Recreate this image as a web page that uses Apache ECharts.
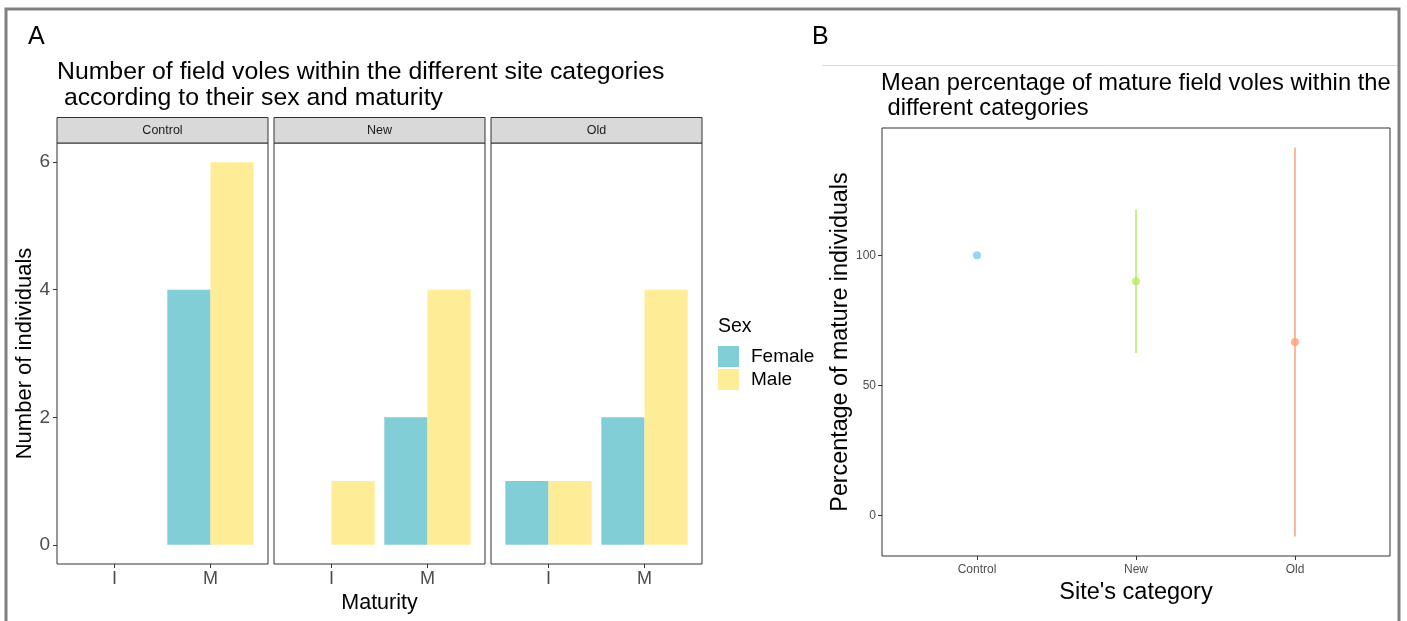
<!DOCTYPE html>
<html>
<head>
<meta charset="utf-8">
<script src="https://cdn.jsdelivr.net/npm/echarts@6/dist/echarts.min.js"></script>
<style>
  html, body { margin: 0; padding: 0; background: #fff; }
  #chart { width: 1407px; height: 621px; }
</style>
</head>
<body>
<div id="chart"></div>
<script>
// Panel A: counts per site, maturity and sex
const sites = ['Control', 'New', 'Old']
const maturity = ['I', 'M']
const femaleCounts = [['-', 4], ['-', 2], [1, 2]]
const maleCounts = [['-', 6], [1, 4], [1, 4]]
const countTicks = [0, 2, 4, 6]

// Panel B: mean percentage of mature individuals with error bars
const siteCategories = ['Control', 'New', 'Old']
const meanPct = [100, 90, 66.7]
const lowPct = [100, 62.5, -8]
const highPct = [100, 117.5, 141.4]
const pctTicks = [0, 50, 100]
const pointColors = ['#80C8F8', '#B5EC5E', '#FFA07A']

const FONT = '"Liberation Sans", Arial, sans-serif'
const femaleColor = '#81CED6'
const maleColor = '#FEEC97'

const chart = echarts.init(document.getElementById('chart'))

const grid = []
const xAxis = []
const yAxis = []
const series = []
const graphic = []

// facet panels of A
const panelLeft = [57, 274, 491]
sites.forEach((site, i) => {
    const L = panelLeft[i]
    // frame
    grid.push({ left: L, top: 143, width: 211, height: 421, show: true, borderColor: '#333', borderWidth: 1, backgroundColor: 'transparent' })
    xAxis.push({ gridIndex: grid.length - 1, type: 'value', show: false })
    yAxis.push({ gridIndex: grid.length - 1, type: 'value', show: false })
    // data
    grid.push({ left: L + 9.5, top: 143, width: 192, height: 421 })
    const gi = grid.length - 1
    xAxis.push({
        gridIndex: gi, type: 'category', data: maturity,
        axisLine: { show: false, onZero: false },
        axisTick: { show: true, alignWithLabel: true, length: 4, lineStyle: { color: '#333' } },
        axisLabel: { fontSize: 18, color: '#4d4d4d', margin: 6, fontFamily: FONT }
    })
    yAxis.push({
        gridIndex: gi, type: 'value', min: -0.3, max: 6.3, offset: 9.5,
        show: i === 0,
        axisLine: { show: false },
        splitLine: { show: false },
        axisTick: { show: true, length: 4, customValues: countTicks, lineStyle: { color: '#333' } },
        axisLabel: { fontSize: 19, color: '#4d4d4d', margin: 7, customValues: countTicks, fontFamily: FONT },
        name: i === 0 ? 'Number of individuals' : '',
        nameLocation: 'middle', nameGap: 20, nameRotate: 90,
        nameTextStyle: { fontSize: 22, color: '#000', fontFamily: FONT }
    })
    series.push({
        name: 'Female', type: 'bar', xAxisIndex: xAxis.length - 1, yAxisIndex: yAxis.length - 1,
        data: femaleCounts[i], barGap: '0%', barCategoryGap: '10%',
        itemStyle: { color: femaleColor }
    })
    series.push({
        name: 'Male', type: 'bar', xAxisIndex: xAxis.length - 1, yAxisIndex: yAxis.length - 1,
        data: maleCounts[i], barGap: '0%', barCategoryGap: '10%',
        itemStyle: { color: maleColor }
    })
    // strip
    graphic.push({ type: 'rect', shape: { x: L, y: 117.5, width: 211, height: 25.5 }, style: { fill: '#d9d9d9', stroke: '#333', lineWidth: 1 } })
    graphic.push({ type: 'text', x: L + 105.5, y: 131, style: { text: site, font: '12.5px ' + FONT, fill: '#1a1a1a', align: 'center', verticalAlign: 'middle' } })
})

// panel B frame + data
grid.push({ left: 882, top: 128, width: 508, height: 428, show: true, borderColor: '#333', borderWidth: 1, backgroundColor: 'transparent' })
xAxis.push({ gridIndex: grid.length - 1, type: 'value', show: false })
yAxis.push({ gridIndex: grid.length - 1, type: 'value', show: false })
grid.push({ left: 897.5, top: 128, width: 477, height: 428 })
const bg = grid.length - 1
xAxis.push({
    gridIndex: bg, type: 'category', data: siteCategories,
    axisLine: { show: false, onZero: false },
    axisTick: { show: true, alignWithLabel: true, length: 4, lineStyle: { color: '#333' } },
    axisLabel: { fontSize: 12, color: '#4d4d4d', margin: 8, fontFamily: FONT },
    name: "Site's category", nameLocation: 'middle', nameGap: 25,
    nameTextStyle: { fontSize: 23.5, color: '#000', fontFamily: FONT }
})
yAxis.push({
    gridIndex: bg, type: 'value', min: -15.5, max: 148.9, offset: 15.5,
    axisLine: { show: false },
    splitLine: { show: false },
    axisTick: { show: true, length: 4, customValues: pctTicks, lineStyle: { color: '#333' } },
    axisLabel: { fontSize: 12, color: '#4d4d4d', margin: 6, customValues: pctTicks, fontFamily: FONT },
    name: 'Percentage of mature individuals', nameLocation: 'middle', nameGap: 29, nameRotate: 90,
    nameTextStyle: { fontSize: 23.3, color: '#000', fontFamily: FONT }
})
series.push({
    type: 'custom', xAxisIndex: xAxis.length - 1, yAxisIndex: yAxis.length - 1,
    data: siteCategories.map((c, i) => [i, lowPct[i], highPct[i]]),
    renderItem: (params, api) => {
        const p1 = api.coord([api.value(0), api.value(1)])
        const p2 = api.coord([api.value(0), api.value(2)])
        return {
            type: 'line',
            shape: { x1: p1[0], y1: p1[1], x2: p2[0], y2: p2[1] },
            style: { stroke: pointColors[params.dataIndex], lineWidth: 1.5 }
        }
    },
    z: 2
})
series.push({
    type: 'scatter', xAxisIndex: xAxis.length - 1, yAxisIndex: yAxis.length - 1,
    data: meanPct.map((v, i) => ({ value: v, itemStyle: { color: pointColors[i] } })),
    symbolSize: 8, z: 3
})

// labels and decoration
graphic.push(
    { type: 'rect', shape: { x: 6, y: 9, width: 1393, height: 640 }, style: { fill: 'none', stroke: '#808080', lineWidth: 3 } },
    { type: 'line', shape: { x1: 822, y1: 65.5, x2: 1397, y2: 65.5 }, style: { stroke: '#d9d9d9', lineWidth: 1 } },
    { type: 'text', x: 28, y: 37, style: { text: 'A', font: '25px ' + FONT, fill: '#000', verticalAlign: 'middle' } },
    { type: 'text', x: 812, y: 37, style: { text: 'B', font: '25px ' + FONT, fill: '#000', verticalAlign: 'middle' } },
    { type: 'text', x: 57, y: 72, style: { text: 'Number of field voles within the different site categories', font: '24.8px ' + FONT, fill: '#000', verticalAlign: 'middle' } },
    { type: 'text', x: 57, y: 98, style: { text: ' according to their sex and maturity', font: '24.8px ' + FONT, fill: '#000', verticalAlign: 'middle' } },
    { type: 'text', x: 881, y: 83, style: { text: 'Mean percentage of mature field voles within the', font: '23.7px ' + FONT, fill: '#000', verticalAlign: 'middle' } },
    { type: 'text', x: 881, y: 108, style: { text: ' different categories', font: '23.7px ' + FONT, fill: '#000', verticalAlign: 'middle' } },
    { type: 'text', x: 379.5, y: 603, style: { text: 'Maturity', font: '21.5px ' + FONT, fill: '#000', align: 'center', verticalAlign: 'middle' } },
    { type: 'text', x: 718, y: 327, style: { text: 'Sex', font: '19.5px ' + FONT, fill: '#000', verticalAlign: 'middle' } }
)

const option = {
    animation: false,
    backgroundColor: '#fff',
    textStyle: { fontFamily: FONT },
    legend: {
        data: ['Female', 'Male'],
        orient: 'vertical', left: 718, top: 346, padding: 0,
        icon: 'rect', itemWidth: 21, itemHeight: 21, itemGap: 2,
        textStyle: { fontSize: 19, color: '#000', fontFamily: FONT, padding: [3, 0, 0, 7] }
    },
    grid, xAxis, yAxis, series, graphic
}

chart.setOption(option)
</script>
</body>
</html>
